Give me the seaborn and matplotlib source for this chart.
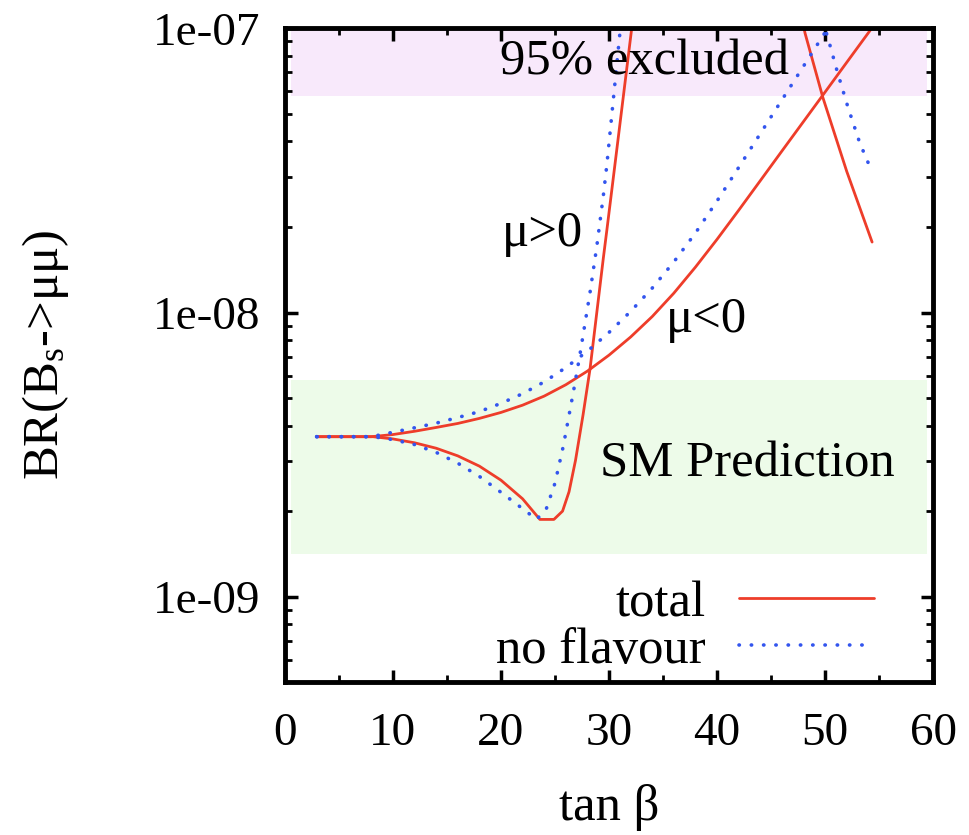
import numpy as np
import pandas as pd
import matplotlib
matplotlib.use("Agg")
import matplotlib.pyplot as plt
import seaborn as sns
from matplotlib.ticker import FixedLocator, LogLocator, NullFormatter, MultipleLocator

# ---- data ----
tanb_total_neg = [2.94, 6, 8, 10, 12, 14, 16, 18, 20, 22, 24, 26, 28, 30, 32, 34, 36, 38, 40, 42, 44, 46,
                  48, 50, 52, 54.17]
br_total_neg = [3.656e-9, 3.656e-9, 3.656e-9, 3.72e-9, 3.82e-9, 3.94e-9, 4.07e-9, 4.24e-9, 4.45e-9, 4.72e-9,
                5.08e-9, 5.57e-9, 6.22e-9, 7.08e-9, 8.20e-9, 9.68e-9, 1.17e-8, 1.445e-8, 1.81e-8, 2.29e-8,
                2.91e-8, 3.70e-8, 4.70e-8, 5.97e-8, 7.59e-8, 9.84e-8]

tanb_total_pos = [2.94, 6, 8.15, 10, 12, 14, 16, 18, 20, 22, 23.6, 24.9, 25.7, 26.3, 26.9, 27.6, 28.24,
                  28.9, 29.47, 29.8, 30.74, 32.1, 34, 38, 42, 46, 48.15, 49.8, 52.0, 54.35]
br_total_pos = [3.656e-9, 3.656e-9, 3.656e-9, 3.59e-9, 3.48e-9, 3.33e-9, 3.13e-9, 2.88e-9, 2.57e-9, 2.21e-9,
                1.87e-9, 1.87e-9, 2.0e-9, 2.34e-9, 3.02e-9, 4.37e-9, 6.32e-9, 1.023e-8, 1.55e-8, 1.95e-8,
                3.80e-8, 1.0e-7, 2.5e-7, 1.5e-6, 1.5e-6, 2.2e-7, 9.6e-8, 5.7e-8, 3.14e-8, 1.77e-8]

tanb_noflav_neg = [2.94, 6, 8, 10, 12, 14, 16, 18, 20, 22, 24, 26, 28, 30, 32, 34, 36, 38, 40, 42, 44, 46,
                   48, 50, 52, 54.17]
br_noflav_neg = [3.656e-9, 3.656e-9, 3.656e-9, 3.79e-9, 3.93e-9, 4.08e-9, 4.27e-9, 4.48e-9, 4.79e-9, 5.18e-9,
                 5.70e-9, 6.40e-9, 7.31e-9, 8.51e-9, 1.009e-8, 1.219e-8, 1.507e-8, 1.905e-8, 2.47e-8,
                 3.24e-8, 4.26e-8, 5.60e-8, 7.36e-8, 9.68e-8, 1.27e-7, 1.71e-7]

tanb_noflav_pos = [2.94, 6, 8.15, 10, 12, 14, 16, 18, 20, 22, 23.3, 24.2, 25.0, 25.77, 26.7, 27.3, 28.24,
                   28.86, 29.47, 29.8, 31.05, 33, 38, 44, 49, 50.2, 51.1, 52.1, 53.2, 54.17]
br_noflav_pos = [3.656e-9, 3.656e-9, 3.656e-9, 3.57e-9, 3.43e-9, 3.22e-9, 2.95e-9, 2.65e-9, 2.33e-9, 2.04e-9,
                 1.87e-9, 2.04e-9, 2.51e-9, 3.39e-9, 5.25e-9, 7.08e-9, 1.175e-8, 1.70e-8, 2.57e-8, 3.31e-8,
                 1.0e-7, 2.5e-7, 1.2e-6, 9e-7, 1.25e-7, 9.44e-8, 7.1e-8, 5.3e-8, 3.96e-8, 3.24e-8]

excluded_band = [5.8e-8, 1.0e-7]
sm_band = [1.41e-9, 5.8e-9]

x_ticks = [0, 10, 20, 30, 40, 50, 60]
y_ticks = [1e-9, 1e-8, 1e-7]
y_tick_labels = ["1e-09", "1e-08", "1e-07"]

# ---- style ----
sns.set_theme(style="white")
plt.rcParams["font.family"] = ["Liberation Serif", "DejaVu Serif"]
plt.rcParams["mathtext.fontset"] = "custom"
plt.rcParams["mathtext.rm"] = "Liberation Serif"
plt.rcParams["mathtext.it"] = "Liberation Serif"
plt.rcParams["text.color"] = "black"
plt.rcParams["axes.labelcolor"] = "black"

FS = 36.5
FS_TICK = 34
RED = "#ee3d2a"
BLUE = "#3355ee"
DOTS = (0, (0.1, 3.3))

fig = plt.figure(figsize=(9.69, 8.35), dpi=100)
ax = fig.add_axes([0.294, 0.183, 0.669, 0.783])

ax.set_xlim(0, 60)
ax.set_yscale("log")
ax.set_ylim(5e-10, 1e-7)

# bands
ax.axhspan(excluded_band[0], excluded_band[1], xmin=0.01, xmax=0.99, color="#f8e9fb", lw=0, zorder=0)
ax.axhspan(sm_band[0], sm_band[1], xmin=0.01, xmax=0.99, color="#edfbe9", lw=0, zorder=0)

def curve(x, y, color, ls, lw):
    df = pd.DataFrame({"tanb": x, "br": y})
    sns.lineplot(data=df, x="tanb", y="br", ax=ax, color=color, lw=lw, sort=False,
                 estimator=None, legend=False)
    line = ax.lines[-1]
    line.set_solid_joinstyle("round")
    if ls is not None:
        line.set_linestyle(ls)
        line.set_dash_capstyle("round")
    return line

l_tot = curve(tanb_total_neg, br_total_neg, RED, None, 2.0)
curve(tanb_total_pos, br_total_pos, RED, None, 2.0)
l_nf = curve(tanb_noflav_neg, br_noflav_neg, BLUE, DOTS, 2.6)
curve(tanb_noflav_pos, br_noflav_pos, BLUE, DOTS, 2.6)

# texts
ax.text(33.3, 7.6e-8, "95% excluded", fontsize=FS, ha="center", va="center")
ax.text(42.8, 2.92e-9, "SM Prediction", fontsize=FS, ha="center", va="center")
ax.text(23.8, 1.9e-8, "μ>0", fontsize=FS, ha="center", va="center")
ax.text(39.0, 9.45e-9, "μ<0", fontsize=FS, ha="center", va="center")

leg = ax.legend([l_tot, l_nf], ["total", "no flavour"], loc="lower right",
                bbox_to_anchor=(0.94, -0.018), frameon=False, markerfirst=False,
                fontsize=FS, handlelength=2.66, handletextpad=0.67, labelspacing=0.0,
                borderaxespad=0.0)

# axes styling
for s in ax.spines.values():
    s.set_visible(True)
    s.set_linewidth(3.5)
    s.set_color("black")

ax.xaxis.set_major_locator(FixedLocator(x_ticks))
ax.xaxis.set_minor_locator(MultipleLocator(5))
ax.set_xticklabels([str(t) for t in x_ticks])
ax.yaxis.set_major_locator(FixedLocator(y_ticks))
ax.set_yticklabels(y_tick_labels)
ax.yaxis.set_minor_locator(LogLocator(base=10, subs=np.arange(2, 10)))
ax.yaxis.set_minor_formatter(NullFormatter())

ax.tick_params(which="both", direction="in", top=True, right=True, bottom=True, left=True,
               color="black", labelsize=FS_TICK, labelcolor="black")
ax.tick_params(which="major", length=9, width=2.5)
ax.tick_params(which="minor", length=5, width=2)
ax.tick_params(axis="x", which="major", pad=22)
ax.tick_params(axis="y", which="major", pad=18)

ax.set_xlabel("tan β", fontsize=FS)
ax.set_ylabel("BR(B$_\\mathrm{s}$->μμ)", fontsize=FS)
ax.xaxis.set_label_coords(0.5, -0.155)
ax.yaxis.set_label_coords(-0.33, 0.5)

fig.savefig("out.png", dpi=100)
